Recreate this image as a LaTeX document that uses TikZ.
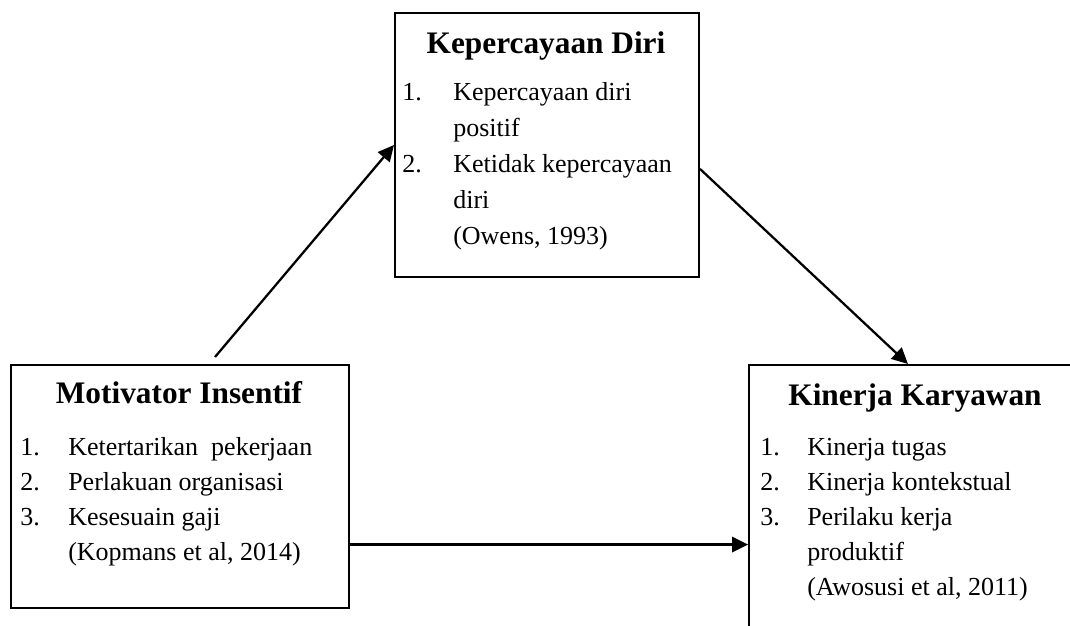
\documentclass[tikz,border=0pt]{standalone}
\usepackage{fontspec}
\setmainfont{Liberation Serif}
\usepackage{tikz}
\usetikzlibrary{arrows.meta,calc,positioning}

\begin{document}
\begin{tikzpicture}[x=0.75pt,y=-0.75pt]
\tikzset{
	var box/.style = {draw, line width = 1.5pt, inner sep = 0, anchor = north west},
	var title/.style = {anchor = base, inner sep = 0, font = \fontsize{23.5}{28}\selectfont\bfseries},
	var list/.style = {anchor = base west, inner sep = 0, font = \fontsize{19.5}{26.25}\selectfont},
	link/.style = {line width = 1.7pt, -{Triangle[length = 12pt, width = 11.5pt]}}
}
\useasboundingbox (0,0) rectangle (1070,625);
\clip (0,0) rectangle (1070,625);

\node (kd)[var box, minimum width = 228pt, minimum height = 198pt] at (394,12) {};
\node (mi)[var box, minimum width = 253.5pt, minimum height = 182.25pt] at (10,364) {};
\node (kk)[var box, minimum width = 250.5pt, minimum height = 217.5pt] at (748,364) {};

\node (kdT)[var title] at (546,53) {Kepercayaan Diri};
\node (miT)[var title] at (179,403) {Motivator Insentif};
\node (kkT)[var title] at (915,405) {Kinerja Karyawan};

\node (kdL)[var list, font = \fontsize{19.5}{27}\selectfont] at (402,100) {\begin{tabular}[t]{@{}p{38.25pt}@{}l@{}}
	1. & Kepercayaan diri\\
	   & positif\\
	2. & Ketidak kepercayaan\\
	   & diri\\
	   & (Owens, 1993)
\end{tabular}};
\node (miL)[var list] at (20,455) {\begin{tabular}[t]{@{}p{36pt}@{}l@{}}
	1. & Ketertarikan\ \ pekerjaan\\
	2. & Perlakuan organisasi\\
	3. & Kesesuain gaji\\
	   & (Kopmans et al, 2014)
\end{tabular}};
\node (kkL)[var list] at (760,455) {\begin{tabular}[t]{@{}p{35.25pt}@{}l@{}}
	1. & Kinerja tugas\\
	2. & Kinerja kontekstual\\
	3. & Perilaku kerja\\
	   & produktif\\
	   & (Awosusi et al, 2011)
\end{tabular}};

\coordinate (s1) at (215,357);
\coordinate (s3) at ($(mi.north east)!0.737!(mi.south east)$);
\draw[link] (s1) -- (kd.west);
\draw[link] ($(kd.north east)!0.59!(kd.south east)$) -- ($(kk.north west)!0.476!(kk.north east)$);
\draw[link] (s3) -- (s3 -| kk.west);
\end{tikzpicture}
\end{document}
